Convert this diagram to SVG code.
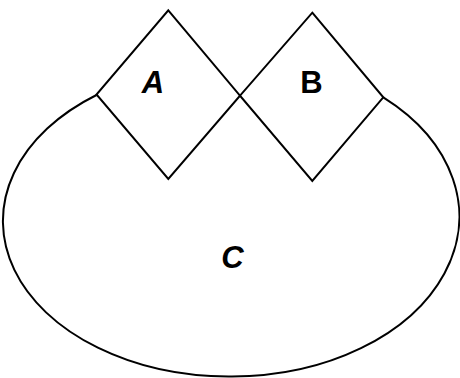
<svg xmlns="http://www.w3.org/2000/svg" width="460" height="378" viewBox="0 0 460 378">
<style>
.shape{fill:#fff;stroke:#000;stroke-width:2;stroke-linejoin:miter}
.open{fill:none;stroke:#000;stroke-width:2}
.lbl{font-family:"Liberation Sans",Arial,sans-serif;font-weight:bold;font-size:31px;fill:#000;text-anchor:middle}
</style>
<rect width="460" height="378" fill="#fff"/>
<g id="C">
<path class="open" d="M96.5,95 A226,155.5 0 0 0 232,376.5 A227.5,159.9 0 0 0 383.3,97.3"/>
<text class="lbl" x="232.5" y="268" font-style="italic">C</text>
</g>
<g id="A">
<polygon class="shape" points="168.3,10.3 240,95.7 168.3,179 96.5,94.5"/>
<text class="lbl" x="153" y="93" font-style="italic">A</text>
</g>
<g id="B">
<polygon class="shape" points="312.3,12.7 383.3,97.3 312.3,181 240,95.7"/>
<text class="lbl" x="311.5" y="93">B</text>
</g>
<g id="connectors"></g>
</svg>
